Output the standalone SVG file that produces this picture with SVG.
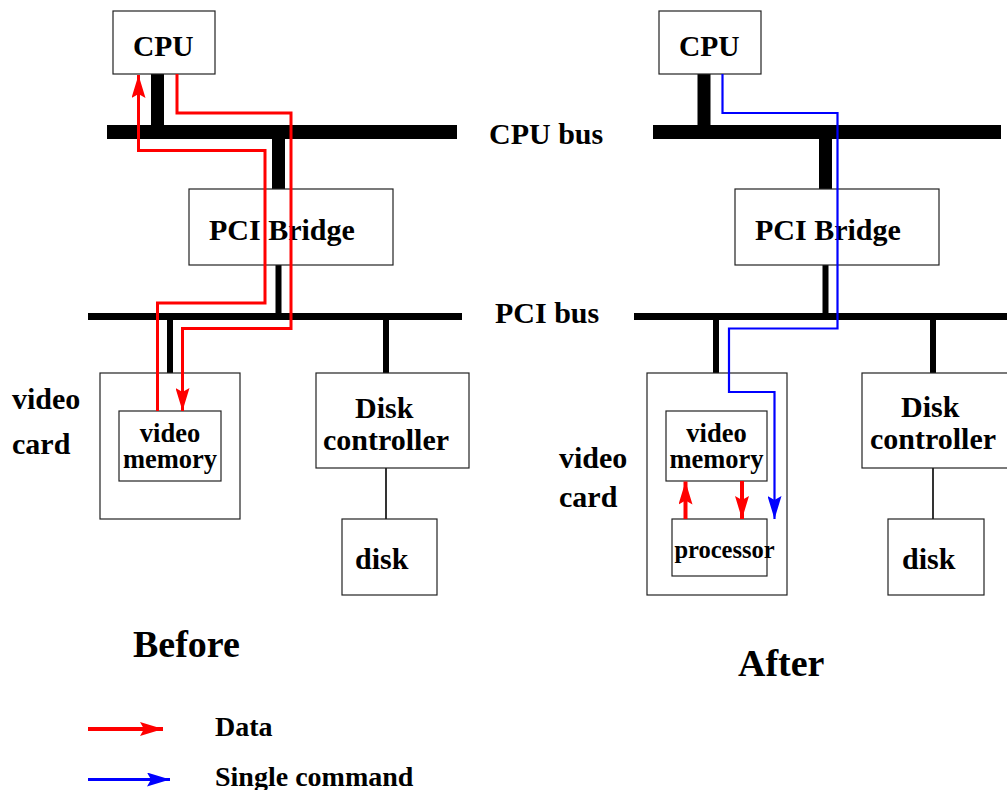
<svg xmlns="http://www.w3.org/2000/svg" width="1007" height="790" viewBox="0 0 1007 790">
<style>
.box{fill:#fff;stroke:#222;stroke-width:1.2}
.t{font-family:"Liberation Serif","Times New Roman",serif;font-weight:bold;fill:#000}
.bus{fill:#000}
.wire{stroke:#000;stroke-width:1.6;fill:none}
.red{stroke:#ff0000;stroke-width:3;fill:none}
.blue{stroke:#0000ff;stroke-width:2.2;fill:none}
</style>
<defs>
<marker id="ar" viewBox="0 0 23 14" refX="23" refY="7" markerWidth="23" markerHeight="14" markerUnits="userSpaceOnUse" orient="auto">
<path d="M0,0 L23,7 L0,14 L4,7 z" fill="#ff0000"/>
</marker>
<marker id="ab" viewBox="0 0 23 14" refX="23" refY="7" markerWidth="23" markerHeight="14" markerUnits="userSpaceOnUse" orient="auto">
<path d="M0,0 L23,7 L0,14 L4,7 z" fill="#0000ff"/>
</marker>
</defs>
<rect width="1007" height="790" fill="#fff"/>

<g id="buses">
<rect class="bus" x="107" y="125" width="350" height="14"/>
<rect class="bus" x="88" y="313" width="374" height="7"/>
<rect class="bus" x="151" y="74" width="13" height="51"/>
<rect class="bus" x="272" y="139" width="13" height="50"/>
<rect class="bus" x="275.5" y="265" width="6" height="48"/>
<rect class="bus" x="167" y="320" width="6" height="91"/>
<rect class="bus" x="383" y="320" width="6" height="53"/>
<line class="wire" x1="386" y1="468" x2="386" y2="519"/>

<rect class="bus" x="653" y="125" width="348" height="14"/>
<rect class="bus" x="634" y="313" width="373" height="7"/>
<rect class="bus" x="697.5" y="74" width="13" height="51"/>
<rect class="bus" x="819" y="139" width="13" height="50"/>
<rect class="bus" x="822.5" y="265" width="6" height="48"/>
<rect class="bus" x="713" y="320" width="6" height="91"/>
<rect class="bus" x="930" y="320" width="6" height="53"/>
<rect class="bus" x="708" y="481" width="18" height="38"/>
<line class="wire" x1="933" y1="468" x2="933" y2="519"/>
</g>

<g id="cpu-left">
<rect class="box" x="113" y="11" width="102" height="63"/>
<text class="t" x="133" y="56" font-size="29.5">CPU</text>
</g>
<g id="bridge-left">
<rect class="box" x="189" y="189" width="204" height="76"/>
<text class="t" x="209" y="240" font-size="30">PCI Bridge</text>
</g>
<g id="videocard-left">
<rect class="box" x="100" y="373" width="140" height="146"/>
</g>
<g id="vmem-left">
<rect class="box" x="119" y="411" width="102" height="70"/>
<text class="t" x="170" y="442" font-size="26.5" text-anchor="middle">video</text>
<text class="t" x="170" y="468" font-size="26.5" text-anchor="middle">memory</text>
</g>
<g id="diskctl-left">
<rect class="box" x="316" y="373" width="153" height="95"/>
<text class="t" x="355" y="418" font-size="30">Disk</text>
<text class="t" x="323" y="450" font-size="30">controller</text>
</g>
<g id="disk-left">
<rect class="box" x="342" y="519" width="95" height="76"/>
<text class="t" x="355" y="569" font-size="30">disk</text>
</g>

<g id="cpu-right">
<rect class="box" x="659" y="11" width="102" height="63"/>
<text class="t" x="679" y="56" font-size="29.5">CPU</text>
</g>
<g id="bridge-right">
<rect class="box" x="735" y="189" width="204" height="76"/>
<text class="t" x="755" y="240" font-size="30">PCI Bridge</text>
</g>
<g id="videocard-right">
<rect class="box" x="647" y="373" width="140" height="222"/>
</g>
<g id="vmem-right">
<rect class="box" x="666" y="411" width="101" height="70"/>
<text class="t" x="716.5" y="442" font-size="26.5" text-anchor="middle">video</text>
<text class="t" x="716.5" y="468" font-size="26.5" text-anchor="middle">memory</text>
</g>
<g id="processor">
<rect class="box" x="672" y="519" width="95" height="57"/>
<text class="t" x="724.5" y="558" font-size="24.5" text-anchor="middle">processor</text>
</g>
<g id="diskctl-right">
<rect class="box" x="862" y="373" width="153" height="95"/>
<text class="t" x="901" y="417" font-size="30">Disk</text>
<text class="t" x="870" y="449" font-size="30">controller</text>
</g>
<g id="disk-right">
<rect class="box" x="888" y="519" width="96" height="76"/>
<text class="t" x="902" y="569" font-size="30">disk</text>
</g>

<g id="labels">
<text class="t" x="489" y="144" font-size="30">CPU bus</text>
<text class="t" x="495" y="323" font-size="30">PCI bus</text>
<text class="t" x="12" y="409" font-size="30">video</text>
<text class="t" x="12" y="454" font-size="30">card</text>
<text class="t" x="559" y="468" font-size="30">video</text>
<text class="t" x="559" y="507" font-size="30">card</text>
<text class="t" x="133" y="657" font-size="38">Before</text>
<text class="t" x="738" y="676" font-size="38">After</text>
<text class="t" x="215" y="736" font-size="28">Data</text>
<text class="t" x="215" y="786" font-size="28">Single command</text>
</g>

<g id="connectors">
<path class="red" d="M157.5,411 V303 H265 V150.5 H138.5 V75" marker-end="url(#ar)"/>
<path class="red" d="M177,74 V113 H291 V328.5 H182.5 V411" marker-end="url(#ar)"/>
<path class="blue" d="M722.5,74 V113 H837.5 V328.5 H729 V392 H774.5 V519" marker-end="url(#ab)"/>
<path class="red" style="stroke-width:4" d="M685.5,519 V481.5" marker-end="url(#ar)"/>
<path class="red" style="stroke-width:4" d="M742,481 V519" marker-end="url(#ar)"/>
<path class="red" style="stroke-width:4" d="M88,729 H163" marker-end="url(#ar)"/>
<path class="blue" style="stroke-width:3" d="M88,779.5 H170" marker-end="url(#ab)"/>
</g>
</svg>
